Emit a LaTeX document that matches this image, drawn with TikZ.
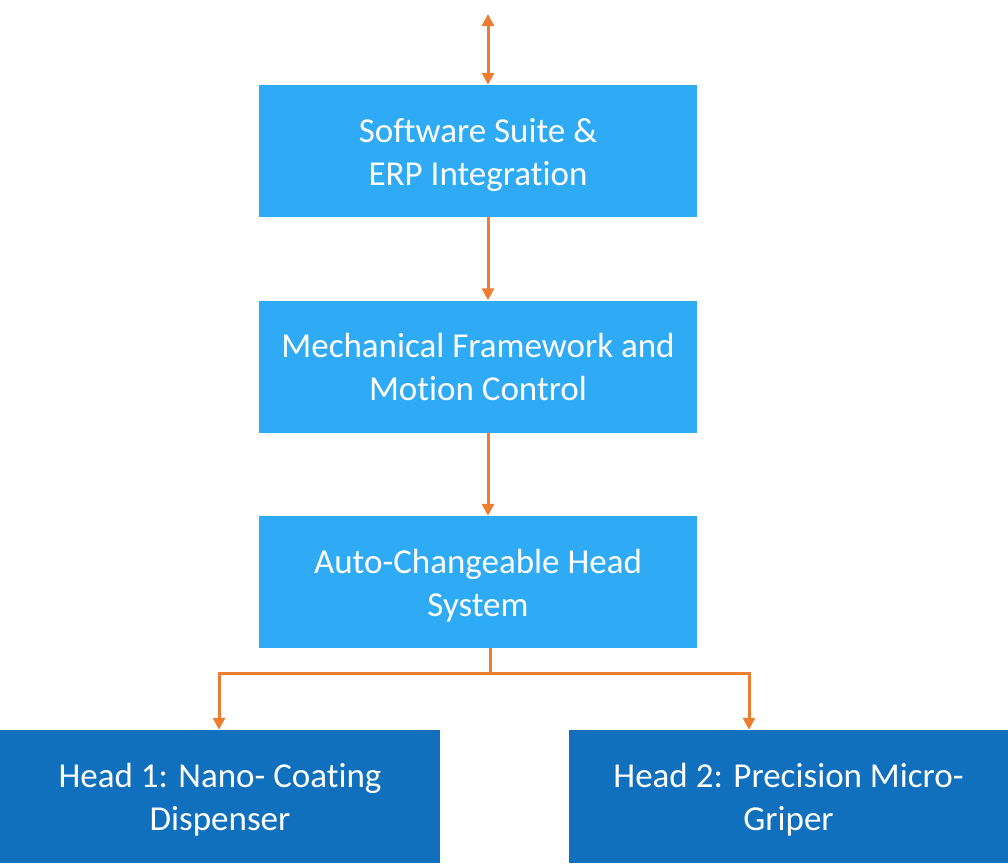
\documentclass[tikz,border=0pt]{standalone}
\usepackage{fontspec}
\setmainfont{Carlito}[Ligatures=NoCommon]
\usetikzlibrary{arrows.meta}
\definecolor{boxlight}{HTML}{2FAAF5}
\definecolor{boxdark}{HTML}{1070BE}
\definecolor{linkorange}{HTML}{ED7D31}

\begin{document}
\begin{tikzpicture}[x=1pt,y=-1pt,
  stage/.style={rectangle,fill=boxlight,text=white,align=center,minimum width=438pt,minimum height=132pt,inner sep=0pt,text height=76pt,text depth=8pt,font=\fontsize{35}{43}\selectfont},
  head/.style={stage,fill=boxdark,minimum width=440pt,minimum height=133pt},
  link/.style={draw=linkorange,line width=3pt,-{Triangle[length=12pt,width=12pt]}}]
  \useasboundingbox (0,0) rectangle (1008,863);
  \node[stage] (soft) at (478,151) {Software Suite \&\\ERP Integration};
  \node[stage] (mech) at (478,366.5) {Mechanical Framework and\\Motion Control};
  \node[stage] (auto) at (478,582) {Auto-Changeable Head\\System};
  \node[head] (head1) at (220,796.5) {Head 1: Nano- Coating\\Dispenser};
  \node[head,minimum width=439pt] (head2) at (788.5,796.5) {Head 2: Precision Micro-\\Griper};
  \coordinate (top) at (488,14);
  \coordinate (split) at (490,673);
  \draw[link,{Triangle[length=12pt,width=12pt]}-{Triangle[length=12pt,width=12pt]}] (top) -- (top |- soft.north);
  \draw[link] (soft.south -| top) -- (mech.north -| top);
  \draw[link] (mech.south -| top) -- (auto.north -| top);
  \draw[draw=linkorange,line width=3pt] (auto.south -| split) -- (split);
  \draw[link] (split) -| ([xshift=-1pt]head1.north);
  \draw[link] (split) -| ([xshift=-39.5pt]head2.north);
\end{tikzpicture}
\end{document}
